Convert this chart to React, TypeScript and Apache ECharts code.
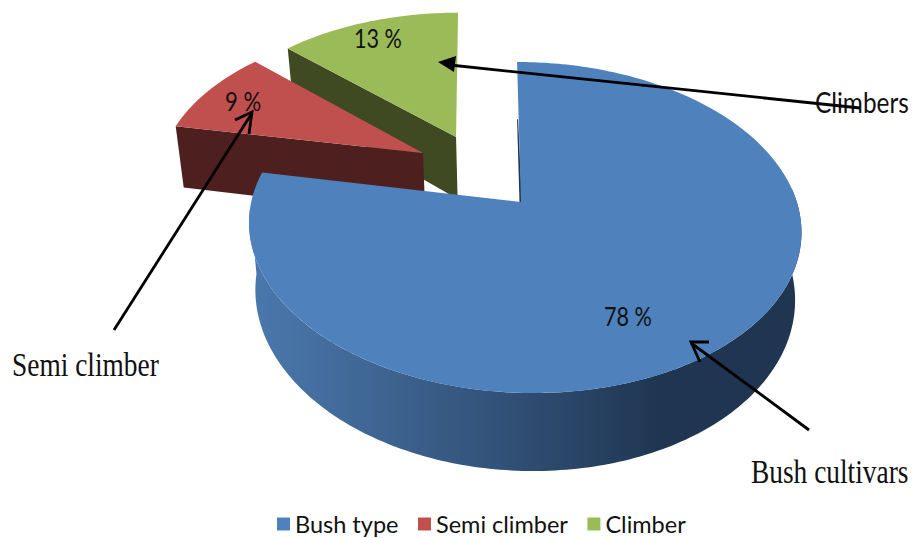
import React, { useEffect, useRef } from "react";
import * as echarts from "echarts";

// Cultivar growth habit shares, in percent.
const categories = ["Bush type", "Semi climber", "Climber"];
const shares = [78, 9, 13];
const faceColors = ["#4F81BD", "#C0504D", "#9BBB59"];
const wallColors = ["#1F3551", "#4D1F1E", "#3F4A23"];
// How far each slice is pulled out of the pie, in pie radii on the table plane.
const pullOuts = [[0, 0], [-0.379, -0.318], [-0.253, -0.429]];
const layerOrder = [3, 2, 1];

// Perspective camera for the tilted pie.
const CX = 524;
const CY = 202;
const RX = 272.8;
const RY = 161.6;
const PERSPECTIVE = 0.154;
const SHEAR = 8;
const DEPTH = 66;
const BASE_SHRINK = 0.977;
const APEX_NUDGE = -3;

const total = shares.reduce((a, b) => a + b, 0);

function top(x: number, y: number): number[] {
  const w = 1 - PERSPECTIVE * y;
  return [CX + (RX * x + SHEAR * y) / w, CY + (RY * y) / w];
}

function base(x: number, y: number): number[] {
  const w = 1 - PERSPECTIVE * y;
  const p = top(x, y);
  return [CX + (p[0] - CX) * BASE_SHRINK, p[1] + DEPTH / w];
}

function rimPoints(project: typeof top, from: number, to: number, off: number[]): number[][] {
  const pts: number[][] = [];
  const steps = Math.max(2, Math.ceil(Math.abs(to - from)));
  for (let i = 0; i <= steps; i++) {
    const a = ((from + ((to - from) * i) / steps) * Math.PI) / 180;
    pts.push(project(off[0] + Math.sin(a), off[1] - Math.cos(a)));
  }
  return pts;
}

function sliceRange(index: number): number[] {
  const before = shares.slice(0, index).reduce((a, b) => a + b, 0);
  return [(before / total) * 360, ((before + shares[index]) / total) * 360];
}

function renderSlice(index: number) {
  return (_params: any, _api: any) => {
    const [from, to] = sliceRange(index);
    const off = pullOuts[index];
    const children: any[] = [];
    const poly = (points: number[][], fill: any) => ({
      type: "polygon",
      shape: { points },
      style: { fill, stroke: null },
    });

    if (index === 0) {
      // Outer rim along the near side, shaded from left to right.
      const rim = rimPoints(top, 85, 268, off);
      const rimLow = rimPoints(base, 85, 268, off);
      children.push(
        poly(
          rim.concat(rimLow.reverse()),
          new echarts.graphic.LinearGradient(0, 0, 1, 0, [
            { offset: 0, color: "#4A78AE" },
            { offset: 0.12, color: "#456FA0" },
            { offset: 0.5, color: "#2F4D72" },
            { offset: 0.75, color: "#1F3551" },
            { offset: 1, color: "#1F3551" },
          ]),
        ),
      );
      // Cut face seen edge-on along the start of the slice.
      const edgeTop = top(off[0], off[1] - 1);
      const edgeLow = [edgeTop[0], edgeTop[1] + DEPTH / (1 + PERSPECTIVE)];
      const apex = [CX + APEX_NUDGE, CY];
      children.push(
        poly(
          [edgeLow, [edgeLow[0] + 1, edgeLow[1]], [apex[0] + 1, apex[1]], [apex[0] - 1.5, apex[1]]],
          wallColors[0],
        ),
      );
    } else {
      // Cut face running from the rim to the centre, facing the viewer.
      const sin = Math.sin((from * Math.PI) / 180);
      const cos = Math.cos((from * Math.PI) / 180);
      const upper = top(off[0] + sin, off[1] - cos);
      const lower = base(off[0] + sin, off[1] - cos);
      children.push(poly([upper, top(off[0], off[1]), base(off[0], off[1]), lower], wallColors[index]));
    }

    const apexTop = index === 0 ? [CX + APEX_NUDGE, CY] : top(off[0], off[1]);
    children.push(poly([apexTop].concat(rimPoints(top, from, to, off)), faceColors[index]));
    return { type: "group", children };
  };
}

function arrowLine(from: number[], to: number[]) {
  return {
    type: "line",
    z: 20,
    shape: { x1: from[0], y1: from[1], x2: to[0], y2: to[1] },
    style: { stroke: "#000", lineWidth: 2.8 },
  };
}

function label(text: string, x: number, y: number, size: number, family: string, scaleX: number) {
  return {
    type: "text",
    z: 15,
    x,
    y,
    scaleX,
    style: {
      text,
      x: 0,
      y: 0,
      fill: "#111",
      fontSize: size,
      fontFamily: family,
      textAlign: "left",
      textVerticalAlign: "middle",
    },
  };
}

const SANS = "Lato";
const SERIF = "Liberation Serif";

export default function App() {
  const ref = useRef<HTMLDivElement>(null);

  useEffect(() => {
    const chart = echarts.init(ref.current as HTMLDivElement, undefined, { renderer: "svg" });
    chart.setOption({
      animation: false,
      backgroundColor: "#fff",
      legend: {
        data: categories,
        left: 272,
        top: 507,
        icon: "rect",
        itemWidth: 13,
        itemHeight: 13,
        itemGap: 19.5,
        selectedMode: false,
        textStyle: { fontFamily: SANS, fontSize: 23.5, color: "#111" },
      },
      series: categories.map((name, i) => ({
        type: "custom",
        name,
        coordinateSystem: "none",
        silent: true,
        z: layerOrder[i],
        itemStyle: { color: faceColors[i] },
        data: [[shares[i]]],
        renderItem: renderSlice(i),
      })),
      graphic: [
        label(`${shares[0]} %`, 604, 316, 27, SANS, 0.8),
        label(`${shares[1]} %`, 225, 101, 27, SANS, 0.82),
        label(`${shares[2]} %`, 354, 38, 27, SANS, 0.8),
        label("Climbers", 815, 102, 28, SANS, 0.87),
        label("Semi climber", 12, 365, 33, SERIF, 0.83),
        label("Bush cultivars", 751, 472, 33, SERIF, 0.83),

        arrowLine([860, 108], [450, 65]),
        { type: "polygon", z: 20, shape: { points: [[438, 62], [456, 56], [454, 72]] }, style: { fill: "#000" } },

        arrowLine([114, 330], [252, 113]),
        {
          type: "polyline",
          z: 20,
          shape: { points: [[235, 120], [252, 112], [249, 134]] },
          style: { stroke: "#000", lineWidth: 2.8, fill: null },
        },

        arrowLine([809, 430], [691, 343]),
        {
          type: "polyline",
          z: 20,
          shape: { points: [[709, 342], [691, 342], [700, 362]] },
          style: { stroke: "#000", lineWidth: 2.8, fill: null },
        },
      ],
    });
    return () => chart.dispose();
  }, []);

  return <div ref={ref} style={{ position: "fixed", left: 0, top: 0, width: 912, height: 538 }} />;
}
